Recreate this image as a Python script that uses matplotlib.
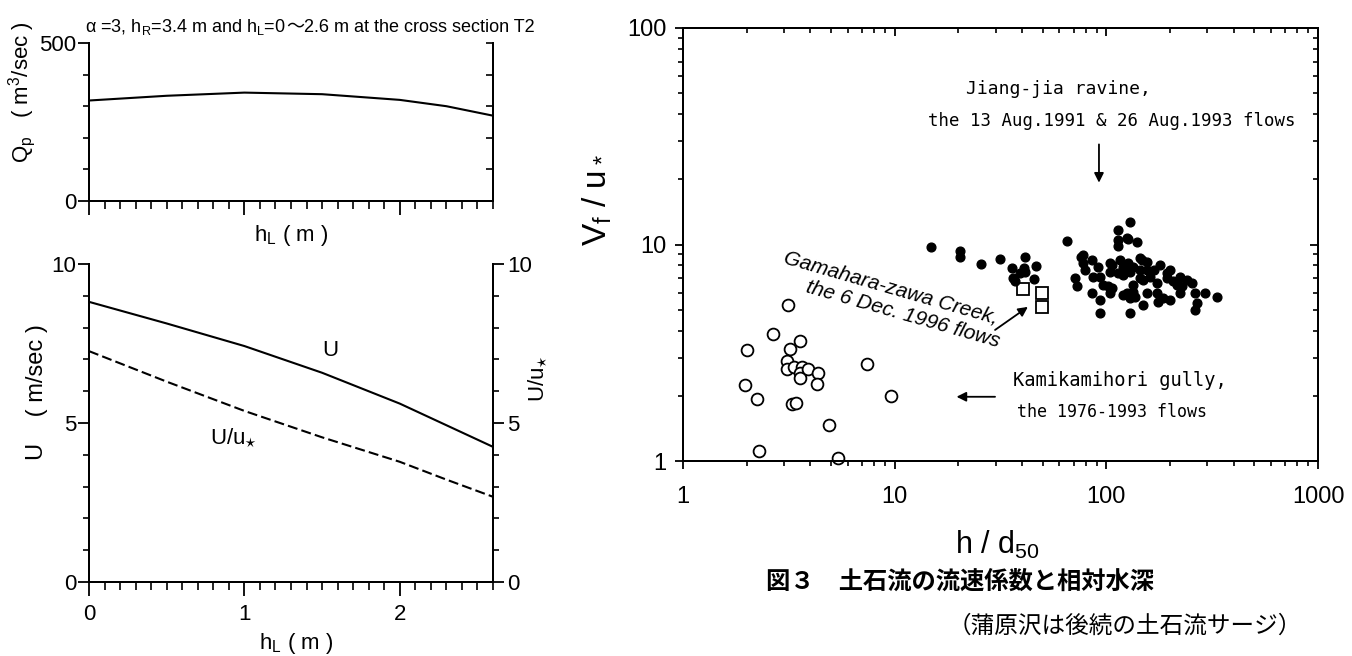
import matplotlib
matplotlib.use('Agg')
import matplotlib.pyplot as plt
from matplotlib import font_manager
from matplotlib.ticker import MultipleLocator, FixedLocator, NullFormatter

names = {f.name for f in font_manager.fontManager.ttflist}
SANS = 'Liberation Sans Narrow' if 'Liberation Sans Narrow' in names else 'Liberation Sans'
MONO = 'DejaVu Sans Mono'
JP = 'Noto Sans CJK JP'

plt.rcParams['font.family'] = [SANS, 'DejaVu Sans']
plt.rcParams['mathtext.default'] = 'regular'
plt.rcParams['axes.linewidth'] = 1.4

# ---- left panels: h_L (m) vs Qp, U, U/u*
hl = [0.0, 0.5, 1.0, 1.5, 2.0, 2.3, 2.6]
qp = [318, 333, 343, 338, 320, 300, 270]
u_vel = [8.81, 8.13, 7.42, 6.58, 5.61, 4.93, 4.25]
u_ratio = [7.26, 6.30, 5.38, 4.55, 3.78, 3.22, 2.68]

# ---- right panel: h/d50 vs Vf/u*
kami_x = [2.0, 1.97, 2.23, 2.28, 2.65, 3.15, 3.2, 3.57, 3.1, 3.1, 3.33, 3.64,
          3.57, 3.57, 3.91, 4.36, 4.31, 3.26, 3.43, 4.92, 5.42, 7.38, 9.57]
kami_y = [3.25, 2.24, 1.94, 1.11, 3.85, 5.24, 3.28, 3.57, 2.9, 2.65, 2.72, 2.72,
          2.54, 2.43, 2.65, 2.54, 2.26, 1.84, 1.86, 1.46, 1.03, 2.82, 1.99]
gama_x = [40.5, 49.8, 49.8]
gama_y = [6.2, 6.0, 5.16]
jiang_x = [14.8, 20.3, 20.3, 25.5, 31.4, 41.2, 35.7, 40.9, 46.5, 36.3, 39.1, 41.2,
           45.6, 37.2, 64.9, 129, 114, 114, 127, 139, 114, 77.8, 85.3, 77.8,
           79.2, 91.6, 106, 116, 120, 134, 147, 104, 114, 129, 144, 86.7, 93.3,
           71.1, 72.4, 96.7, 106, 85.3, 93.3, 120, 134, 134, 149, 93.3, 129,
           144, 129, 76, 102, 125, 136.6, 155, 173, 186, 200, 173, 149, 155,
           168, 193, 207, 227, 253, 262, 267, 262, 292, 332, 223, 144, 155,
           179, 200, 223, 104, 127, 120, 104, 161, 193, 215, 240, 176, 125]
jiang_y = [9.76, 9.35, 8.8, 8.1, 8.56, 8.8, 7.78, 7.8, 7.97, 7.03, 7.37, 7.5,
           6.92, 6.75, 10.4, 12.7, 11.7, 10.5, 10.6, 10.3, 9.8, 8.96, 8.5, 8.2,
           7.64, 7.91, 8.05, 8.5, 7.9, 7.9, 8.5, 7.5, 7.37, 7.5, 7.64, 7.11, 7.11,
           6.99, 6.46, 6.5, 6.28, 5.96, 5.55, 5.85, 6.06, 6.5, 5.26, 4.81, 4.81,
           6.99, 5.65, 8.8, 6.4, 5.96, 5.74, 5.96, 5.96, 5.65, 5.55, 6.63, 6.85, 7.64,
           7.64, 7.37, 6.75, 6.4, 6.63, 5.96, 5.34, 4.99, 5.96, 5.74, 5.96, 8.66, 8.3,
           8.05, 7.64, 7.11, 8.2, 8.2, 7.24, 5.96, 7.11, 6.99, 6.5, 6.85, 5.44, 10.7]

log_ticks = [1, 10, 100, 1000]
log_labels = ['1', '10', '100', '1000']

W, H = 1352, 656
fig = plt.figure(figsize=(W / 100, H / 100), dpi=100)


def box(l, t, r, b):
    return [l / W, 1 - b / H, (r - l) / W, (b - t) / H]


def style_x(ax, labels):
    ax.set_xlim(0, 2.6)
    ax.xaxis.set_major_locator(FixedLocator([0, 1, 2]))
    ax.xaxis.set_minor_locator(MultipleLocator(0.1))
    ax.tick_params(axis='x', which='major', direction='out', length=10, width=1.3,
                   labelsize=16, pad=6, labelbottom=labels)
    ax.tick_params(axis='x', which='minor', direction='out', length=6, width=1.2)
    ax.spines['top'].set_visible(False)


# top-left: Qp
ax1 = fig.add_axes(box(89, 43, 493, 201))
ax1.plot(hl, qp, color='k', lw=1.5)
style_x(ax1, False)
ax1.set_ylim(0, 500)
ax1.set_yticks([0, 500])
ax1.yaxis.set_minor_locator(MultipleLocator(100))
ax1.tick_params(axis='y', which='major', direction='out', length=8, width=1.3,
                labelsize=16, pad=1)
ax1.tick_params(axis='y', which='minor', direction='out', length=4, width=1.2)
ax1r = ax1.twinx()
ax1r.set_ylim(0, 500)
ax1r.yaxis.set_major_locator(MultipleLocator(100))
ax1r.yaxis.set_major_formatter(NullFormatter())
ax1r.tick_params(axis='y', direction='in', length=5, width=1.2)
ax1r.spines['top'].set_visible(False)

# bottom-left: U and U/u*
ax2 = fig.add_axes(box(89, 264, 493, 582))
ax2.plot(hl, u_vel, color='k', lw=1.5)
ax2.plot(hl, u_ratio, color='k', lw=1.5, dashes=(4.8, 2))
style_x(ax2, True)
ax2.set_ylim(0, 10)
ax2.set_yticks([0, 5, 10])
ax2.yaxis.set_minor_locator(MultipleLocator(1))
ax2.tick_params(axis='y', which='major', direction='out', length=8, width=1.3,
                labelsize=16, pad=1)
ax2.tick_params(axis='y', which='minor', direction='out', length=4, width=1.2)
ax2r = ax2.twinx()
ax2r.set_ylim(0, 10)
ax2r.set_yticks([0, 5, 10])
ax2r.yaxis.set_minor_locator(MultipleLocator(1))
ax2r.tick_params(axis='y', which='major', direction='out', length=8, width=1.3,
                 labelsize=16, pad=2)
ax2r.tick_params(axis='y', which='minor', direction='out', length=4, width=1.2)
ax2r.spines['top'].set_visible(False)
ax2.text(1.55, 7.29, 'U', fontsize=16, ha='center', va='center')
ax2.text(0.93, 4.52, 'U/u$_{\\star}$', fontsize=16, ha='center', va='center')

fig.text(22 / W, 1 - 92 / H, 'Q$_p$   ( m$^3$/sec )', rotation=90, fontsize=16,
         ha='center', va='center')
fig.text(291 / W, 1 - 236 / H, 'h$_L$ ( m )', fontsize=16, ha='center', va='center')
fig.text(37 / W, 1 - 392 / H, 'U    ( m/sec )', rotation=90, fontsize=17,
         ha='center', va='center')
fig.text(538 / W, 1 - 378 / H, 'U/u$_{\\star}$', rotation=90, fontsize=16,
         ha='center', va='center')
fig.text(296 / W, 1 - 643 / H, 'h$_L$ ( m )', fontsize=16, ha='center', va='center')

# title of the left panels, built piece by piece so the wave dash gets a CJK font
renderer = fig.canvas.get_renderer()
xpos = 85
for s, fam in [('α =3, h$_R$=3.4 m and h$_L$=0', SANS), ('〜', JP),
               ('2.6 m at the cross section T2', SANS)]:
    t = fig.text(xpos / W, 1 - 32 / H, s, family=[fam, 'DejaVu Sans'], fontsize=13,
                 ha='left', va='baseline')
    xpos += t.get_window_extent(renderer).width

# right panel
ax3 = fig.add_axes(box(683, 28, 1318, 461))
ax3.set_xscale('log')
ax3.set_yscale('log')
ax3.plot(kami_x, kami_y, 'o', mfc='white', mec='k', ms=8.5, mew=1.3, clip_on=False)
ax3.plot(gama_x, gama_y, 's', mfc='white', mec='k', ms=8, mew=1.3)
ax3.plot(jiang_x, jiang_y, 'o', color='k', ms=6.3)
ax3.set_xlim(1, 1000)
ax3.set_ylim(1, 100)
ax3.set_xticks(log_ticks)
ax3.set_xticklabels(log_labels)
ax3.set_yticks(log_ticks[:3])
ax3.set_yticklabels(log_labels[:3])
ax3.tick_params(which='major', direction='out', length=6, width=1.3, labelsize=17)
ax3.tick_params(which='minor', direction='out', length=3.5, width=1.2)
ax3.tick_params(axis='x', which='major', pad=12)
ax3.tick_params(axis='y', which='major', pad=6)
ax3t = ax3.twiny()
ax3t.set_xscale('log')
ax3t.set_xlim(1, 1000)
ax3t.xaxis.set_major_formatter(NullFormatter())
ax3t.xaxis.set_minor_formatter(NullFormatter())
ax3t.tick_params(which='major', direction='in', length=6, width=1.3)
ax3t.tick_params(which='minor', direction='in', length=3.5, width=1.2)
ax3r = ax3t.twinx()
ax3r.set_yscale('log')
ax3r.set_ylim(1, 100)
ax3r.yaxis.set_major_formatter(NullFormatter())
ax3r.yaxis.set_minor_formatter(NullFormatter())
ax3r.tick_params(which='major', direction='in', length=6, width=1.3)
ax3r.tick_params(which='minor', direction='in', length=3.5, width=1.2)

arrow = dict(arrowstyle='-|>', color='k', lw=1.3, mutation_scale=14, shrinkA=0, shrinkB=0)
ax3.text(21.7, 52, 'Jiang-jia ravine,', family=MONO, fontsize=13, va='center')
ax3.text(14.4, 37, 'the 13 Aug.1991 & 26 Aug.1993 flows', family=MONO, fontsize=12.5,
         va='center')
ax3.annotate('', xy=(92.3, 19.3), xytext=(92.3, 29), arrowprops=arrow)
ax3.text(9.6, 6.3, 'Gamahara-zawa Creek,', fontsize=15, style='italic', rotation=-16,
         rotation_mode='anchor', ha='center', va='center', family=['Liberation Sans'])
ax3.text(10.9, 4.78, 'the 6 Dec. 1996 flows', fontsize=15, style='italic', rotation=-16,
         rotation_mode='anchor', ha='center', va='center', family=['Liberation Sans'])
ax3.annotate('', xy=(42.6, 5.15), xytext=(29.8, 4.03), arrowprops=arrow)
ax3.text(36.2, 2.36, 'Kamikamihori gully,', family=MONO, fontsize=13.5, va='center')
ax3.text(37.8, 1.686, 'the 1976-1993 flows', family=MONO, fontsize=12, va='center')
ax3.annotate('', xy=(19.6, 1.98), xytext=(29.8, 1.98), arrowprops=arrow)

fig.text(597 / W, 1 - 200 / H, 'V$_f$ / u$_*$', rotation=90, fontsize=24,
         ha='center', va='center')
fig.text(997 / W, 1 - 545 / H, 'h / d$_{50}$', fontsize=22, ha='center', va='center')
fig.text(960 / W, 1 - 582 / H, '図３　土石流の流速係数と相対水深', family=[JP, 'DejaVu Sans'],
         fontsize=17.5, fontweight='bold', ha='center', va='center')
fig.text(1125 / W, 1 - 626 / H, '（蒲原沢は後続の土石流サージ）', family=[JP, 'DejaVu Sans'],
         fontsize=17, ha='center', va='center')

fig.savefig('out.png', dpi=100, facecolor='white')
